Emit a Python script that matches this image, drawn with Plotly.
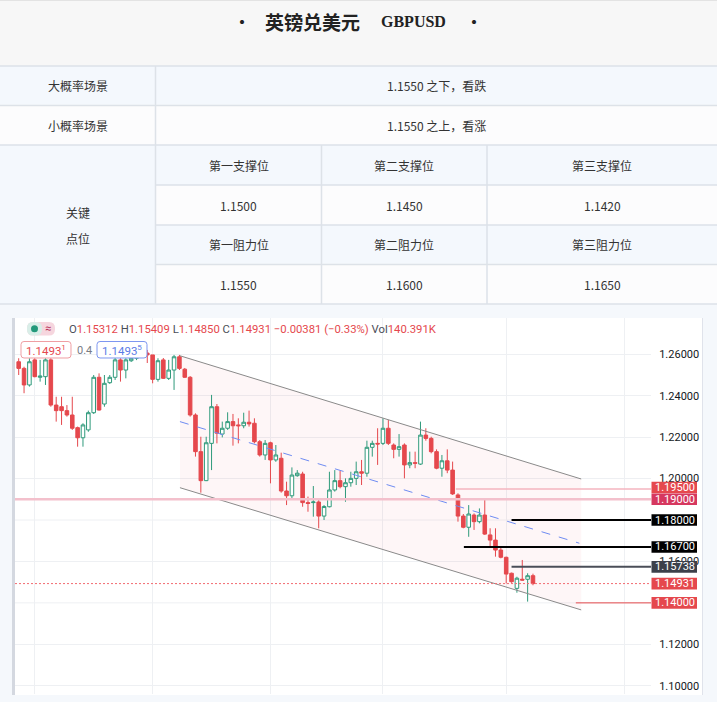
import plotly.graph_objects as go

W, H = 717, 702

# ---------------- data ----------------
title_cn = "英镑兑美元"
title_en = "GBPUSD"
scenario_names = ["大概率场景", "小概率场景"]
scenario_texts = ["1.1550 之下，看跌", "1.1550 之上，看涨"]
key_label = ["关键", "点位"]
support_headers = ["第一支撑位", "第二支撑位", "第三支撑位"]
support_values = ["1.1500", "1.1450", "1.1420"]
resist_headers = ["第一阻力位", "第二阻力位", "第三阻力位"]
resist_values = ["1.1550", "1.1600", "1.1650"]

candle_idx = list(range(97))
opens = [1.2564, 1.2532, 1.2452, 1.2573, 1.2489, 1.2492, 1.2573, 1.2355, 1.2347, 1.2328,
         1.2307, 1.2246, 1.2197, 1.2235, 1.2318, 1.2489, 1.2360, 1.2463, 1.2489, 1.2573,
         1.2524, 1.2569, 1.2581, 1.2611, 1.2606, 1.2597, 1.2479, 1.2573, 1.2484, 1.2524,
         1.2588, 1.2528, 1.2489, 1.2307, 1.2130, 1.1990, 1.2170, 1.2347, 1.2215, 1.2243,
         1.2275, 1.2259, 1.2255, 1.2272, 1.2267, 1.2178, 1.2114, 1.2173, 1.2090, 1.2098,
         1.1940, 1.1917, 1.2014, 1.2022, 1.1884, 1.1884, 1.1887, 1.1819, 1.1864, 1.1945,
         1.1990, 1.1961, 1.1980, 1.2001, 1.2033, 1.2026, 1.2151, 1.2170, 1.2170, 1.2243,
         1.2162, 1.2141, 1.2162, 1.2066, 1.2077, 1.2070, 1.2210, 1.2194, 1.2130, 1.2050,
         1.2086, 1.2041, 1.1921, 1.1819, 1.1765, 1.1824, 1.1792, 1.1824, 1.1728, 1.1703,
         1.1655, 1.1620, 1.1543, 1.1470, 1.1514, 1.1514, 1.15312]
highs = [1.2581, 1.2540, 1.2581, 1.2581, 1.2573, 1.2581, 1.2581, 1.2395, 1.2395, 1.2355,
         1.2395, 1.2251, 1.2267, 1.2328, 1.2500, 1.2508, 1.2500, 1.2500, 1.2582, 1.2581,
         1.2581, 1.2611, 1.2630, 1.2635, 1.2621, 1.2597, 1.2581, 1.2582, 1.2573, 1.2597,
         1.2597, 1.2534, 1.2495, 1.2315, 1.2202, 1.2202, 1.2404, 1.2360, 1.2275, 1.2320,
         1.2312, 1.2291, 1.2318, 1.2328, 1.2291, 1.2186, 1.2186, 1.2178, 1.2162, 1.2125,
         1.1985, 1.2054, 1.2041, 1.2033, 1.1913, 1.1964, 1.1897, 1.1872, 1.2033, 1.2041,
         1.2038, 1.2001, 1.2033, 1.2082, 1.2090, 1.2183, 1.2183, 1.2243, 1.2291, 1.2283,
         1.2170, 1.2215, 1.2170, 1.2130, 1.2130, 1.2275, 1.2243, 1.2202, 1.2141, 1.2114,
         1.2141, 1.2082, 1.1929, 1.1829, 1.1872, 1.1832, 1.1856, 1.1897, 1.1760, 1.1760,
         1.1671, 1.1623, 1.1546, 1.1526, 1.1607, 1.1543, 1.15409]
lows = [1.2500, 1.2412, 1.2444, 1.2489, 1.2468, 1.2452, 1.2347, 1.2275, 1.2259, 1.2299,
        1.2235, 1.2154, 1.2154, 1.2226, 1.2312, 1.2328, 1.2347, 1.2457, 1.2476, 1.2468,
        1.2484, 1.2563, 1.2572, 1.2585, 1.2558, 1.2460, 1.2468, 1.2481, 1.2476, 1.2428,
        1.2524, 1.2486, 1.2299, 1.2106, 1.1932, 1.1988, 1.2041, 1.2170, 1.2199, 1.2235,
        1.2159, 1.2170, 1.2243, 1.2251, 1.2170, 1.2106, 1.2090, 1.1977, 1.2081, 1.1932,
        1.1872, 1.1905, 1.2009, 1.1864, 1.1840, 1.1816, 1.1760, 1.1800, 1.1861, 1.1937,
        1.1953, 1.1888, 1.1961, 1.1969, 1.1969, 1.2009, 1.2106, 1.2066, 1.2162, 1.2162,
        1.2098, 1.2106, 1.2001, 1.2050, 1.2050, 1.2066, 1.2183, 1.2122, 1.2045, 1.2009,
        1.2026, 1.1921, 1.1792, 1.1760, 1.1719, 1.1752, 1.1784, 1.1728, 1.1671, 1.1623,
        1.1615, 1.1494, 1.1497, 1.1449, 1.1508, 1.1406, 1.14850]
closes = [1.2532, 1.2452, 1.2564, 1.2492, 1.2495, 1.2573, 1.2355, 1.2328, 1.2328, 1.2307,
          1.2243, 1.2197, 1.2259, 1.2318, 1.2489, 1.2331, 1.2460, 1.2489, 1.2573, 1.2524,
          1.2573, 1.2581, 1.2611, 1.2597, 1.2597, 1.2479, 1.2569, 1.2484, 1.2524, 1.2588,
          1.2532, 1.2489, 1.2307, 1.2130, 1.1990, 1.2173, 1.2347, 1.2219, 1.2243, 1.2275,
          1.2255, 1.2255, 1.2272, 1.2264, 1.2178, 1.2114, 1.2170, 1.2090, 1.2114, 1.1940,
          1.1917, 1.2017, 1.2026, 1.1884, 1.1880, 1.1887, 1.1819, 1.1865, 1.1945, 1.1990,
          1.1961, 1.1980, 1.2001, 1.2033, 1.2026, 1.2151, 1.2170, 1.2167, 1.2243, 1.2170,
          1.2141, 1.2154, 1.2066, 1.2077, 1.2074, 1.2210, 1.2194, 1.2130, 1.2050, 1.2086,
          1.2041, 1.1926, 1.1819, 1.1765, 1.1829, 1.1792, 1.1824, 1.1732, 1.1703, 1.1655,
          1.1620, 1.1539, 1.1502, 1.1519, 1.1510, 1.1531, 1.14931]

price_ticks = [1.10, 1.12, 1.16, 1.20, 1.22, 1.24, 1.26]
price_tick_labels = ["1.10000", "1.12000", "1.16000", "1.20000", "1.22000", "1.24000", "1.26000"]
hidden_grid_prices = [1.14, 1.18]   # gridlines whose labels sit under level boxes
month_grid_idx = [3, 25, 47, 68, 91, 113]

# channel drawing (bar index, price)
channel_x = [30.1, 105.0]
channel_upper = [1.2593, 1.1998]
channel_lower = [1.1956, 1.1366]
mid_dash_x = [30.1, 104.65]
mid_dash_y = [1.2275, 1.1688]

# horizontal levels
level_prices = [1.195, 1.19, 1.18, 1.167, 1.15738, 1.14931, 1.14]
level_labels = ["1.19500", "1.19000", "1.18000", "1.16700", "1.15738", "1.14931", "1.14000"]
level_start = [81.6, None, 92.0, 83.1, 92.0, None, 104.0]

ohlc_keys = ["O", "H", "L", "C"]
ohlc_vals = ["1.15312", "1.15409", "1.14850", "1.14931"]
change_text = "−0.00381 (−0.33%)"
vol_text = "140.391K"
bid_text, spread_text, ask_text = "1.1493", "0.4", "1.1493"
bid_sup, ask_sup = "1", "5"

# ---------------- styles ----------------
RED = "#e5484d"
GREEN = "#2f9a7b"
GRID = "#eef0f3"
CJK = "Noto Sans CJK SC"
TV = "Roboto"
X_RANGE = [-0.69, 118.03]
Y_RANGE = [1.0960, 1.277525]
PX_PER_PRICE = 2071.25


def px(x):
    return x / W


def py(y):
    return 1 - y / H


def rrect(x0, y0, x1, y1, r):
    def P(x, y):
        return f"{px(x):.5f},{py(y):.5f}"
    return (f"M{P(x0 + r, y0)} L{P(x1 - r, y0)} Q{P(x1, y0)} {P(x1, y0 + r)} "
            f"L{P(x1, y1 - r)} Q{P(x1, y1)} {P(x1 - r, y1)} L{P(x0 + r, y1)} "
            f"Q{P(x0, y1)} {P(x0, y1 - r)} L{P(x0, y0 + r)} Q{P(x0, y0)} {P(x0 + r, y0)} Z")


shapes = []
annots = []


def prect(x0, y0, x1, y1, fill, line=None, lw=0, layer="below"):
    shapes.append(dict(type="rect", xref="paper", yref="paper", x0=px(x0), x1=px(x1),
                       y0=py(y1), y1=py(y0), fillcolor=fill,
                       line=dict(color=line or fill, width=lw), layer=layer))


def pline(x0, y0, x1, y1, color, width=1, layer="below", dash="solid"):
    shapes.append(dict(type="line", xref="paper", yref="paper", x0=px(x0), x1=px(x1),
                       y0=py(y0), y1=py(y1), line=dict(color=color, width=width, dash=dash),
                       layer=layer))


def ptext(x, y, text, size=12, color="#333333", family=CJK, xanchor="center"):
    annots.append(dict(xref="paper", yref="paper", x=px(x), y=py(y), text=text,
                       showarrow=False, xanchor=xanchor, yanchor="middle",
                       font=dict(size=size, color=color, family=family)))


# ---------------- table ----------------
BLUE_BG = "#f4f8fd"
WHITE_BG = "#fcfcfd"
BORDER = "#dde2e8"
prect(0, 0, 717, 66, "#f7f7f7")
prect(0, 66, 717, 105.5, BLUE_BG)
prect(0, 105.5, 717, 145, WHITE_BG)
prect(0, 145, 155.5, 304, BLUE_BG)
prect(155.5, 145, 717, 185, BLUE_BG)
prect(155.5, 185, 717, 225, WHITE_BG)
prect(155.5, 225, 717, 264.5, BLUE_BG)
prect(155.5, 264.5, 717, 304, WHITE_BG)
pline(0, 0.5, 717, 0.5, "#e3e3e3")
for yy in [66, 105.5, 145, 304]:
    pline(0, yy, 717, yy, BORDER, 1.5)
for yy in [185, 225, 264.5]:
    pline(155.5, yy, 717, yy, BORDER, 1.5)
pline(155.5, 66, 155.5, 304, BORDER, 1.5)
pline(321.5, 145, 321.5, 304, BORDER, 1.5)
pline(487, 145, 487, 304, BORDER, 1.5)

ptext(241.5, 21, "<b>•</b>", 16, "#222222")
ptext(473.5, 21, "<b>•</b>", 16, "#222222")
ptext(312, 21, f"<b>{title_cn}</b>", 19, "#222222")
ptext(413.5, 21, f"<b>{title_en}</b>", 16, "#222222", family="Liberation Serif")
for k, yy in enumerate([86, 125.5]):
    ptext(77.5, yy, scenario_names[k])
    ptext(436, yy, scenario_texts[k])
ptext(77.5, 212.5, key_label[0])
ptext(77.5, 238.5, key_label[1])
col_centers = [238.5, 404.3, 602]
for c in range(3):
    ptext(col_centers[c], 165.5, support_headers[c])
    ptext(col_centers[c], 205, support_values[c])
    ptext(col_centers[c], 245, resist_headers[c])
    ptext(col_centers[c], 284.5, resist_values[c])

# ---------------- chart frame ----------------
prect(15, 318, 702.5, 695, "#ffffff")
prect(12, 318, 15, 695, "#d4d8e0")
pline(702.5, 318, 702.5, 695, "#e0e3eb")
for gp in hidden_grid_prices:
    shapes.append(dict(type="line", xref="x", yref="y", x0=X_RANGE[0], x1=X_RANGE[1],
                       y0=gp, y1=gp, line=dict(color=GRID, width=1), layer="below"))

# channel fill + lines
shapes.append(dict(type="path", xref="x", yref="y",
                   path=(f"M{channel_x[0]},{channel_upper[0]} L{channel_x[1]},{channel_upper[1]} "
                         f"L{channel_x[1]},{channel_lower[1]} L{channel_x[0]},{channel_lower[0]} Z"),
                   fillcolor="rgba(242,54,69,0.045)", line=dict(width=0), layer="between"))
for ys in (channel_upper, channel_lower):
    shapes.append(dict(type="line", xref="x", yref="y", x0=channel_x[0], x1=channel_x[1],
                       y0=ys[0], y1=ys[1], line=dict(color="#8a8a8a", width=1), layer="above"))
shapes.append(dict(type="line", xref="x", yref="y", x0=mid_dash_x[0], x1=mid_dash_x[1],
                   y0=mid_dash_y[0], y1=mid_dash_y[1],
                   line=dict(color="#6f8cf2", width=1, dash="dash"), layer="above"))

# horizontal levels
level_line_style = [
    dict(color="#f5b5bf", width=1.5, dash="solid"),
    dict(color="#f3c0cc", width=2.5, dash="solid"),
    dict(color="#000000", width=2, dash="solid"),
    dict(color="#000000", width=2, dash="solid"),
    dict(color="#4a4e58", width=2, dash="solid"),
    dict(color="#f26b70", width=1, dash="2px,2px"),
    dict(color=RED, width=1, dash="solid"),
]
level_box_color = ["#e5484d", "#d6385f", "#000000", "#000000", "#3c404a", "#e5484d", "#e5484d"]
level_box_shift_px = [-1.5, 0, 0, 0, 0, 0, 0]   # label nudged up to avoid collision
for k, p in enumerate(level_prices):
    x0 = level_start[k] if level_start[k] is not None else X_RANGE[0]
    shapes.append(dict(type="line", xref="x", yref="y", x0=x0, x1=X_RANGE[1], y0=p, y1=p,
                       line=level_line_style[k], layer="above"))
half = 5.8 / PX_PER_PRICE
for k, p in enumerate(level_prices):
    pc = p - level_box_shift_px[k] / PX_PER_PRICE
    shapes.append(dict(type="rect", xref="paper", yref="y", x0=px(651.5), x1=px(697),
                       y0=pc - half, y1=pc + half, fillcolor=level_box_color[k],
                       line=dict(width=0), layer="above"))
    annots.append(dict(xref="paper", yref="y", x=px(674.5), y=pc, text=level_labels[k],
                       showarrow=False, xanchor="center", yanchor="middle",
                       font=dict(size=11, color="#ffffff", family=TV)))

# legend row
shapes.append(dict(type="path", xref="paper", yref="paper", path=rrect(27, 322, 55, 335.5, 6),
                   fillcolor="#f6d6de", line=dict(width=0), layer="above"))
shapes.append(dict(type="path", xref="paper", yref="paper", path=rrect(27, 322, 42, 335.5, 6),
                   fillcolor="#d9eee8", line=dict(width=0), layer="above"))
shapes.append(dict(type="circle", xref="paper", yref="paper", x0=px(31), x1=px(38),
                   y0=py(332.3), y1=py(325.3), fillcolor="#22997a", line=dict(width=0),
                   layer="above"))
ptext(48.3, 328.5, "≈", 11, "#b8335c", family=TV)

parts = []
for k, v in zip(ohlc_keys, ohlc_vals):
    parts.append(f"<span style='color:#4a4e58'>{k}</span><span style='color:{RED}'>{v}</span>")
legend_txt = " ".join(parts) + f" <span style='color:{RED}'>{change_text}</span>" \
    + f" <span style='color:#4a4e58'>Vol</span><span style='color:{RED}'>{vol_text}</span>"
ptext(67, 329, legend_txt, 11.3, "#4a4e58", family=TV, xanchor="left")

shapes.append(dict(type="path", xref="paper", yref="paper", path=rrect(21, 341.5, 71, 358, 3),
                   fillcolor="#ffffff", line=dict(color="#ef9fa3", width=1), layer="above"))
shapes.append(dict(type="path", xref="paper", yref="paper", path=rrect(97, 341.5, 147, 358, 3),
                   fillcolor="#ffffff", line=dict(color="#7e97f0", width=1), layer="above"))
ptext(46, 350, f"{bid_text}<sup>{bid_sup}</sup>", 11.5, RED, family=TV)
ptext(84, 350, spread_text, 11, "#787b86", family=TV)
ptext(122, 350, f"{ask_text}<sup>{ask_sup}</sup>", 11.5, "#5b7ce6", family=TV)

# ---------------- figure ----------------
fig = go.Figure()
fig.add_trace(go.Candlestick(
    x=candle_idx, open=opens, high=highs, low=lows, close=closes,
    increasing=dict(line=dict(color=GREEN, width=1), fillcolor="#ffffff"),
    decreasing=dict(line=dict(color=RED, width=1), fillcolor=RED),
    whiskerwidth=0, showlegend=False, hoverinfo="skip"))

fig.update_layout(
    width=W, height=H, margin=dict(l=0, r=0, t=0, b=0),
    paper_bgcolor="#f5f8fc", plot_bgcolor="#ffffff",
    showlegend=False, boxgap=0.05, boxgroupgap=0.3,
    shapes=shapes, annotations=annots,
    xaxis=dict(domain=[px(15), px(651)], range=X_RANGE, rangeslider=dict(visible=False),
               tickvals=month_grid_idx, showticklabels=False, showgrid=True,
               gridcolor=GRID, gridwidth=1, zeroline=False, ticks="", showline=False),
    yaxis=dict(domain=[py(694), py(318)], range=Y_RANGE, side="right",
               tickvals=price_ticks, ticktext=price_tick_labels, showgrid=True,
               gridcolor=GRID, gridwidth=1, zeroline=False, ticks="outside",
               ticklen=5, tickcolor="rgba(0,0,0,0)",
               tickfont=dict(size=11, color="#131722", family=TV), showline=False),
)

fig.write_html("out.html", config={"displayModeBar": False, "staticPlot": True},
               post_script="document.body.style.margin='0';document.body.style.overflow='hidden';")
